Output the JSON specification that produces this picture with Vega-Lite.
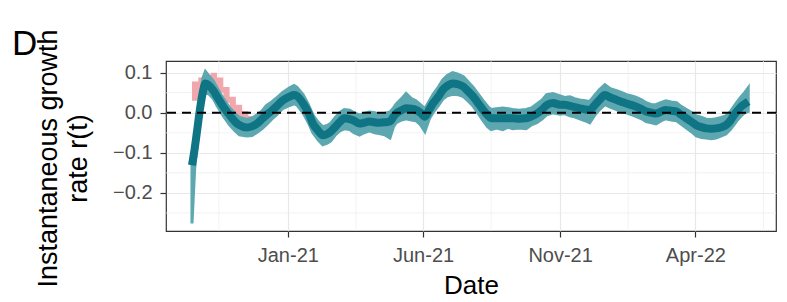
{
  "$schema": "https://vega.github.io/schema/vega-lite/v6.json",
  "width": 610,
  "height": 170,
  "autosize": {"type": "none"},
  "padding": {"left": 166, "top": 61, "right": 11, "bottom": 71},
  "background": "white",
  "title": {"text": "D", "anchor": "start", "frame": "group", "fontSize": 35, "font": "Liberation Sans", "fontWeight": "normal", "color": "black", "dx": -154, "dy": 64, "offset": 3, "baseline": "alphabetic"},
  "config": {
    "font": "Liberation Sans",
    "view": {"stroke": "#333333", "strokeWidth": 1.2},
    "axis": {
      "domain": false,
      "gridColor": "#e8e8e8",
      "gridWidth": 1.2,
      "tickColor": "#333333",
      "tickWidth": 1.2,
      "tickSize": 6,
      "labelColor": "#4d4d4d",
      "labelFontSize": 20,
      "labelFont": "Liberation Sans",
      "titleColor": "#000000",
      "titleFontSize": 26,
      "titleFont": "Liberation Sans",
      "titleFontWeight": "normal"
    }
  },
  "datasets": {
    "est": [
      {"date": "2020-09-16", "r": -0.131, "lo": -0.276, "hi": -0.118},
      {"date": "2020-09-19", "r": -0.09, "lo": -0.14, "hi": -0.07},
      {"date": "2020-09-22", "r": -0.04, "lo": -0.07, "hi": -0.02},
      {"date": "2020-09-25", "r": 0.01, "lo": -0.015, "hi": 0.035},
      {"date": "2020-09-28", "r": 0.05, "lo": 0.03, "hi": 0.085},
      {"date": "2020-10-01", "r": 0.073, "lo": 0.052, "hi": 0.103},
      {"date": "2020-10-05", "r": 0.068, "lo": 0.047, "hi": 0.092},
      {"date": "2020-10-10", "r": 0.055, "lo": 0.035, "hi": 0.078},
      {"date": "2020-10-14", "r": 0.04, "lo": 0.018, "hi": 0.062},
      {"date": "2020-10-21", "r": 0.015, "lo": -0.008, "hi": 0.035},
      {"date": "2020-10-28", "r": -0.006, "lo": -0.03, "hi": 0.012},
      {"date": "2020-11-03", "r": -0.022, "lo": -0.045, "hi": -0.002},
      {"date": "2020-11-08", "r": -0.031, "lo": -0.055, "hi": -0.012},
      {"date": "2020-11-16", "r": -0.037, "lo": -0.058, "hi": -0.016},
      {"date": "2020-11-22", "r": -0.034, "lo": -0.057, "hi": -0.014},
      {"date": "2020-11-27", "r": -0.028, "lo": -0.05, "hi": -0.006},
      {"date": "2020-12-03", "r": -0.016, "lo": -0.04, "hi": 0.004},
      {"date": "2020-12-08", "r": -0.006, "lo": -0.03, "hi": 0.018},
      {"date": "2020-12-14", "r": 0.005, "lo": -0.016, "hi": 0.027},
      {"date": "2020-12-19", "r": 0.015, "lo": -0.006, "hi": 0.036},
      {"date": "2020-12-26", "r": 0.03, "lo": 0.01, "hi": 0.05},
      {"date": "2021-01-03", "r": 0.04, "lo": 0.018, "hi": 0.062},
      {"date": "2021-01-08", "r": 0.044, "lo": 0.022, "hi": 0.068},
      {"date": "2021-01-11", "r": 0.042, "lo": 0.02, "hi": 0.064},
      {"date": "2021-01-18", "r": 0.023, "lo": 0.0, "hi": 0.045},
      {"date": "2021-01-24", "r": 0.0, "lo": -0.025, "hi": 0.02},
      {"date": "2021-01-29", "r": -0.027, "lo": -0.05, "hi": -0.006},
      {"date": "2021-02-04", "r": -0.045, "lo": -0.068, "hi": -0.024},
      {"date": "2021-02-09", "r": -0.056, "lo": -0.08, "hi": -0.035},
      {"date": "2021-02-14", "r": -0.053, "lo": -0.076, "hi": -0.032},
      {"date": "2021-02-18", "r": -0.047, "lo": -0.07, "hi": -0.026},
      {"date": "2021-02-23", "r": -0.035, "lo": -0.055, "hi": -0.012},
      {"date": "2021-02-28", "r": -0.023, "lo": -0.045, "hi": 0.0},
      {"date": "2021-03-05", "r": -0.014, "lo": -0.04, "hi": 0.008},
      {"date": "2021-03-11", "r": -0.016, "lo": -0.042, "hi": 0.006},
      {"date": "2021-03-16", "r": -0.02, "lo": -0.05, "hi": 0.0},
      {"date": "2021-03-22", "r": -0.027, "lo": -0.056, "hi": -0.006},
      {"date": "2021-03-27", "r": -0.025, "lo": -0.05, "hi": -0.002},
      {"date": "2021-04-02", "r": -0.022, "lo": -0.045, "hi": 0.002},
      {"date": "2021-04-08", "r": -0.024, "lo": -0.05, "hi": 0.0},
      {"date": "2021-04-13", "r": -0.025, "lo": -0.052, "hi": -0.004},
      {"date": "2021-04-19", "r": -0.024, "lo": -0.055, "hi": -0.002},
      {"date": "2021-04-25", "r": -0.022, "lo": -0.063, "hi": 0.002},
      {"date": "2021-04-29", "r": -0.01, "lo": -0.035, "hi": 0.012},
      {"date": "2021-05-02", "r": -0.002, "lo": -0.025, "hi": 0.022},
      {"date": "2021-05-08", "r": 0.006, "lo": -0.018, "hi": 0.035},
      {"date": "2021-05-13", "r": 0.011, "lo": -0.015, "hi": 0.048},
      {"date": "2021-05-19", "r": 0.01, "lo": -0.018, "hi": 0.035},
      {"date": "2021-05-24", "r": 0.007, "lo": -0.02, "hi": 0.03},
      {"date": "2021-05-29", "r": 0.0, "lo": -0.03, "hi": 0.02},
      {"date": "2021-06-03", "r": -0.01, "lo": -0.047, "hi": 0.01},
      {"date": "2021-06-08", "r": 0.008, "lo": -0.015, "hi": 0.03},
      {"date": "2021-06-12", "r": 0.023, "lo": 0.0, "hi": 0.045},
      {"date": "2021-06-18", "r": 0.04, "lo": 0.018, "hi": 0.064},
      {"date": "2021-06-23", "r": 0.057, "lo": 0.034, "hi": 0.082},
      {"date": "2021-06-28", "r": 0.067, "lo": 0.042, "hi": 0.093},
      {"date": "2021-07-04", "r": 0.073, "lo": 0.046, "hi": 0.1},
      {"date": "2021-07-10", "r": 0.071, "lo": 0.045, "hi": 0.096},
      {"date": "2021-07-16", "r": 0.065, "lo": 0.04, "hi": 0.09},
      {"date": "2021-07-21", "r": 0.054, "lo": 0.03, "hi": 0.078},
      {"date": "2021-07-27", "r": 0.04, "lo": 0.016, "hi": 0.063},
      {"date": "2021-08-02", "r": 0.022, "lo": -0.003, "hi": 0.045},
      {"date": "2021-08-07", "r": 0.007, "lo": -0.02, "hi": 0.03},
      {"date": "2021-08-12", "r": -0.006, "lo": -0.035, "hi": 0.016},
      {"date": "2021-08-16", "r": -0.014, "lo": -0.042, "hi": 0.008},
      {"date": "2021-08-22", "r": -0.014, "lo": -0.038, "hi": 0.01},
      {"date": "2021-08-29", "r": -0.014, "lo": -0.042, "hi": 0.012},
      {"date": "2021-09-04", "r": -0.014, "lo": -0.036, "hi": 0.01},
      {"date": "2021-09-09", "r": -0.014, "lo": -0.04, "hi": 0.008},
      {"date": "2021-09-16", "r": -0.015, "lo": -0.038, "hi": 0.006},
      {"date": "2021-09-24", "r": -0.014, "lo": -0.04, "hi": 0.008},
      {"date": "2021-09-30", "r": -0.009, "lo": -0.03, "hi": 0.012},
      {"date": "2021-10-06", "r": -0.002, "lo": -0.025, "hi": 0.022},
      {"date": "2021-10-12", "r": 0.008, "lo": -0.015, "hi": 0.032},
      {"date": "2021-10-17", "r": 0.019, "lo": -0.005, "hi": 0.045},
      {"date": "2021-10-24", "r": 0.024, "lo": 0.0, "hi": 0.048},
      {"date": "2021-11-01", "r": 0.02, "lo": -0.004, "hi": 0.042},
      {"date": "2021-11-06", "r": 0.02, "lo": -0.002, "hi": 0.038},
      {"date": "2021-11-12", "r": 0.017, "lo": -0.008, "hi": 0.04},
      {"date": "2021-11-17", "r": 0.014, "lo": -0.01, "hi": 0.035},
      {"date": "2021-11-23", "r": 0.011, "lo": -0.015, "hi": 0.032},
      {"date": "2021-11-29", "r": 0.008, "lo": -0.02, "hi": 0.03},
      {"date": "2021-12-04", "r": 0.007, "lo": -0.025, "hi": 0.028},
      {"date": "2021-12-10", "r": 0.02, "lo": -0.005, "hi": 0.045},
      {"date": "2021-12-15", "r": 0.032, "lo": 0.008, "hi": 0.058},
      {"date": "2021-12-21", "r": 0.044, "lo": 0.02, "hi": 0.07},
      {"date": "2021-12-27", "r": 0.038, "lo": 0.014, "hi": 0.06},
      {"date": "2022-01-03", "r": 0.032, "lo": 0.008, "hi": 0.055},
      {"date": "2022-01-09", "r": 0.027, "lo": 0.002, "hi": 0.05},
      {"date": "2022-01-14", "r": 0.023, "lo": 0.0, "hi": 0.045},
      {"date": "2022-01-20", "r": 0.019, "lo": -0.005, "hi": 0.042},
      {"date": "2022-01-25", "r": 0.015, "lo": -0.01, "hi": 0.038},
      {"date": "2022-01-31", "r": 0.009, "lo": -0.015, "hi": 0.032},
      {"date": "2022-02-05", "r": 0.003, "lo": -0.022, "hi": 0.025},
      {"date": "2022-02-11", "r": 0.0, "lo": -0.025, "hi": 0.02},
      {"date": "2022-02-16", "r": -0.002, "lo": -0.028, "hi": 0.02},
      {"date": "2022-02-22", "r": 0.003, "lo": -0.02, "hi": 0.026},
      {"date": "2022-02-27", "r": 0.007, "lo": -0.015, "hi": 0.03},
      {"date": "2022-03-05", "r": 0.005, "lo": -0.018, "hi": 0.027},
      {"date": "2022-03-11", "r": 0.003, "lo": -0.02, "hi": 0.025},
      {"date": "2022-03-16", "r": -0.005, "lo": -0.028, "hi": 0.016},
      {"date": "2022-03-22", "r": -0.014, "lo": -0.038, "hi": 0.008},
      {"date": "2022-03-28", "r": -0.023, "lo": -0.048, "hi": 0.0},
      {"date": "2022-04-02", "r": -0.031, "lo": -0.058, "hi": -0.008},
      {"date": "2022-04-08", "r": -0.036, "lo": -0.062, "hi": -0.012},
      {"date": "2022-04-13", "r": -0.039, "lo": -0.063, "hi": -0.016},
      {"date": "2022-04-19", "r": -0.04, "lo": -0.065, "hi": -0.017},
      {"date": "2022-04-24", "r": -0.039, "lo": -0.063, "hi": -0.015},
      {"date": "2022-04-30", "r": -0.036, "lo": -0.058, "hi": -0.012},
      {"date": "2022-05-05", "r": -0.031, "lo": -0.053, "hi": -0.008},
      {"date": "2022-05-10", "r": -0.02, "lo": -0.042, "hi": 0.003},
      {"date": "2022-05-14", "r": -0.006, "lo": -0.03, "hi": 0.016},
      {"date": "2022-05-18", "r": 0.005, "lo": -0.018, "hi": 0.028},
      {"date": "2022-05-22", "r": 0.015, "lo": -0.008, "hi": 0.04},
      {"date": "2022-05-26", "r": 0.022, "lo": 0.0, "hi": 0.05},
      {"date": "2022-05-30", "r": 0.028, "lo": 0.003, "hi": 0.062}
    ],
    "pink": [
      {"date": "2020-09-16", "lo": 0.03, "hi": 0.078},
      {"date": "2020-09-23", "lo": 0.045, "hi": 0.088},
      {"date": "2020-09-30", "lo": 0.055, "hi": 0.095},
      {"date": "2020-10-07", "lo": 0.06, "hi": 0.1},
      {"date": "2020-10-14", "lo": 0.05, "hi": 0.088},
      {"date": "2020-10-21", "lo": 0.025, "hi": 0.064},
      {"date": "2020-10-28", "lo": 0.0, "hi": 0.04},
      {"date": "2020-11-04", "lo": -0.02, "hi": 0.02},
      {"date": "2020-11-11", "lo": -0.035, "hi": 0.004},
      {"date": "2020-11-18", "lo": -0.045, "hi": -0.008},
      {"date": "2020-11-25", "lo": -0.045, "hi": -0.008}
    ],
    "gx": [
      {"date": "2020-10-16"},
      {"date": "2021-03-18"},
      {"date": "2021-08-16"},
      {"date": "2022-01-16"},
      {"date": "2022-06-16"}
    ],
    "gy": [
      {"v": -0.25},
      {"v": -0.15},
      {"v": -0.05},
      {"v": 0.05}
    ],
    "zero": [{"v": 0}]
  },
  "layer": [
    {
      "data": {"name": "gx"},
      "mark": {"type": "rule", "color": "#ececec", "strokeWidth": 0.7},
      "encoding": {
        "x": {"field": "date", "type": "temporal", "title": "Date", "scale": {"domain": [{"year": 2020, "month": 8, "date": 18}, {"year": 2022, "month": 6, "date": 30}]}}
      }
    },
    {
      "data": {"name": "gy"},
      "mark": {"type": "rule", "color": "#ececec", "strokeWidth": 0.7},
      "encoding": {
        "y": {"field": "v", "type": "quantitative", "title": ["Instantaneous growth", "rate r(t)"], "scale": {"domain": [-0.295, 0.129], "nice": false, "zero": false}}
      }
    },
    {
      "data": {"name": "pink"},
      "mark": {"type": "area", "color": "#f2a7ac", "opacity": 1, "interpolate": "step-after"},
      "encoding": {
        "x": {"field": "date", "type": "temporal", "title": "Date", "scale": {"domain": [{"year": 2020, "month": 8, "date": 18}, {"year": 2022, "month": 6, "date": 30}]}},
        "y": {"field": "hi", "type": "quantitative", "title": ["Instantaneous growth", "rate r(t)"], "scale": {"domain": [-0.295, 0.129], "nice": false, "zero": false}},
        "y2": {"field": "lo"}
      }
    },
    {
      "data": {"name": "est"},
      "mark": {"type": "area", "color": "#5ca7b0", "stroke": "#5ca7b0", "strokeWidth": 3, "opacity": 1},
      "encoding": {
        "x": {
          "field": "date", "type": "temporal",
          "scale": {"domain": [{"year": 2020, "month": 8, "date": 18}, {"year": 2022, "month": 6, "date": 30}]},
          "axis": {
            "title": "Date",
            "values": [{"year": 2021, "month": 1, "date": 1}, {"year": 2021, "month": 6, "date": 1}, {"year": 2021, "month": 11, "date": 1}, {"year": 2022, "month": 4, "date": 1}],
            "format": "%b-%y",
            "labelPadding": 8,
            "labelFlush": false,
            "labelOverlap": false,
            "titleBaseline": "alphabetic",
            "titleY": 62,
            "titleFontSize": 26
          }
        },
        "y": {
          "field": "hi", "type": "quantitative",
          "scale": {"domain": [-0.295, 0.129], "nice": false, "zero": false},
          "axis": {
            "title": ["Instantaneous growth", "rate r(t)"],
            "values": [-0.2, -0.1, 0, 0.1],
            "format": ".1f",
            "labelPadding": 8,
            "labelFlush": false,
            "titleAngle": -90,
            "titleAlign": "center",
            "titleBaseline": "alphabetic",
            "titleFontSize": 27,
            "titleLineHeight": 30,
            "titleX": -110,
            "titleY": 97
          }
        },
        "y2": {"field": "lo"}
      }
    },
    {
      "data": {"name": "est"},
      "mark": {"type": "line", "color": "#0f7483", "strokeWidth": 8, "interpolate": "monotone", "strokeCap": "butt"},
      "encoding": {
        "x": {"field": "date", "type": "temporal", "title": "Date", "scale": {"domain": [{"year": 2020, "month": 8, "date": 18}, {"year": 2022, "month": 6, "date": 30}]}},
        "y": {"field": "r", "type": "quantitative", "title": ["Instantaneous growth", "rate r(t)"], "scale": {"domain": [-0.295, 0.129], "nice": false, "zero": false}}
      }
    },
    {
      "data": {"name": "zero"},
      "mark": {"type": "rule", "color": "#000000", "strokeWidth": 2, "strokeDash": [9, 6]},
      "encoding": {
        "y": {"field": "v", "type": "quantitative", "title": ["Instantaneous growth", "rate r(t)"], "scale": {"domain": [-0.295, 0.129], "nice": false, "zero": false}}
      }
    }
  ]
}
